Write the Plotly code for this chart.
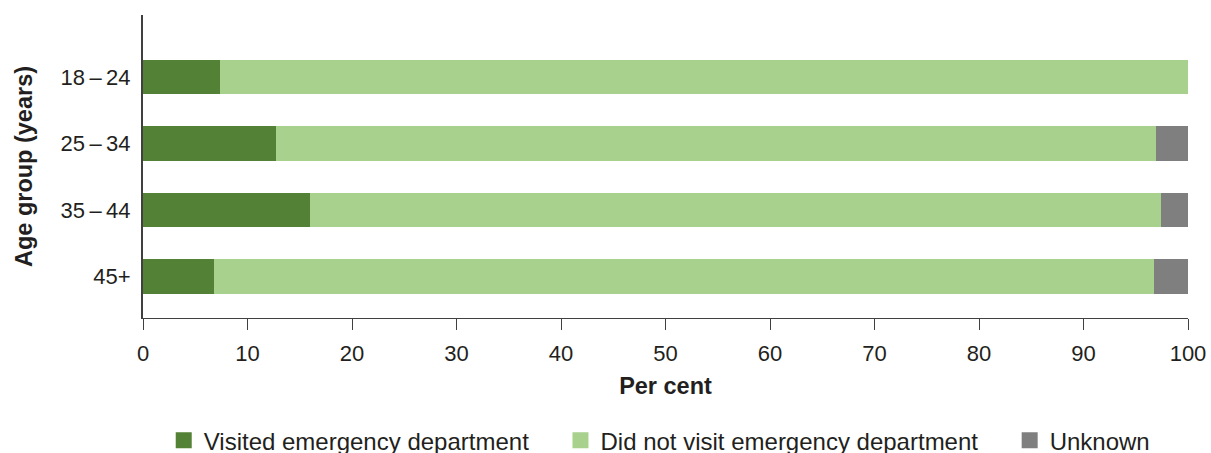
import plotly.graph_objects as go

age_groups = ["18\u2009\u2013\u200924", "25\u2009\u2013\u200934", "35\u2009\u2013\u200944", "45+"]
visited = [7.4, 12.7, 16.0, 6.8]
not_visited = [92.6, 84.2, 81.4, 89.9]
unknown = [0.0, 3.1, 2.6, 3.3]
x_ticks = [0, 10, 20, 30, 40, 50, 60, 70, 80, 90, 100]

series = [
    ("Visited emergency department", visited, "#538135"),
    ("Did not visit emergency department", not_visited, "#A9D18E"),
    ("Unknown", unknown, "#7F7F7F"),
]

FONT = "Liberation Sans, Arial, sans-serif"
TXT = "#231F20"
PAD = "\u00a0" * 4

fig = go.Figure()
for name, vals, col in series:
    fig.add_trace(go.Bar(
        y=age_groups, x=vals, orientation="h", name=name,
        marker=dict(color=col, line=dict(width=0)),
        showlegend=False, hoverinfo="x+y+name",
    ))
for i, (name, vals, col) in enumerate(series):
    label = name + (PAD if i < len(series) - 1 else "")
    fig.add_trace(go.Scatter(
        x=[None], y=[None], mode="markers", name=label,
        marker=dict(symbol="square", size=21, color=col),
        showlegend=True,
    ))

fig.update_layout(
    barmode="stack",
    bargap=0.48,
    width=1211, height=453,
    margin=dict(l=143, r=23, t=15, b=135, autoexpand=False),
    paper_bgcolor="white", plot_bgcolor="white",
    font=dict(family=FONT, size=22, color=TXT),
    legend=dict(
        orientation="h", x=0.494, xanchor="center", y=-0.405, yanchor="middle",
        font=dict(family=FONT, size=24, color=TXT),
        traceorder="normal",
    ),
    xaxis=dict(
        range=[0, 100], tickvals=x_ticks, ticktext=[str(v) for v in x_ticks],
        showgrid=False, zeroline=False, automargin=False,
        showline=True, linecolor="#404040", linewidth=1.3,
        ticks="outside", ticklen=11, tickcolor="#404040", tickwidth=1.3,
        ticklabelstandoff=4,
        tickfont=dict(size=22, color=TXT),
        title=dict(text="<b>Per cent</b>", font=dict(size=23.5, color=TXT), standoff=13),
    ),
    yaxis=dict(
        type="category", categoryorder="array", categoryarray=age_groups,
        range=[3.62, -0.93], automargin=False,
        showgrid=False, zeroline=False,
        showline=True, linecolor="#404040", linewidth=2,
        ticks="", ticklabelstandoff=6,
        tickfont=dict(size=22, color=TXT),
        title=dict(text="<b>Age group (years)</b>", font=dict(size=23.5, color=TXT), standoff=21),
    ),
)

fig.write_html(
    "out.html",
    config={"displayModeBar": False},
    post_script="document.body.style.margin='0';document.body.style.overflow='hidden';",
)
